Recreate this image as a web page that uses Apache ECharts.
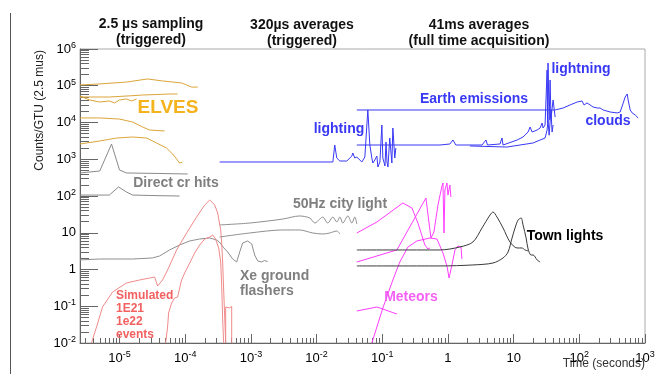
<!DOCTYPE html>
<html><head><meta charset="utf-8">
<script src="https://cdn.jsdelivr.net/npm/echarts@6/dist/echarts.min.js"></script>
<style>html,body{margin:0;padding:0;background:#fff}#c{width:662px;height:374px}</style>
</head><body><div id="c"></div>
<script>
// ---------- axes ----------
const xMin = 2.5e-6, xMax = 1e3, yMin = 1e-2, yMax = 1e6;
const xTickValues = [1e-5, 1e-4, 1e-3, 1e-2, 1e-1, 1, 10, 100, 1000];
const xTickLabels = ['{b|10}{s|-5}', '{b|10}{s|-4}', '{b|10}{s|-3}', '{b|10}{s|-2}', '{b|10}{s|-1}', '{b|1}', '{b|10}', '{b|10}{s|2}', '{b|10}{s|3}'];
const yTickValues = [1e-2, 1e-1, 1, 10, 100, 1e3, 1e4, 1e5, 1e6];
const yTickLabels = ['{b|10}{s|-2}', '{b|10}{s|-1}', '{b|1}', '{b|10}', '{b|10}{s|2}', '{b|10}{s|3}', '{b|10}{s|4}', '{b|10}{s|5}', '{b|10}{s|6}'];
const minorK = [2, 3, 4, 5, 6, 7, 8, 9];

// ---------- data: [time (s), counts/GTU] ----------
const elvesA = [[2.5e-6,1.05e5],[5e-6,1.12e5],[1.28e-5,1.26e5],[2.67e-5,1.53e5],[4.52e-5,1.35e5],[8.8e-5,1.19e5],[1.25e-4,9.2e4],[1.55e-4,9.2e4]];
const elvesB = [[2.5e-6,4.94e4],[7e-6,4.94e4],[1.4e-5,5.3e4],[2.24e-5,5.6e4],[4e-5,5.8e4],[5.78e-5,5.97e4],[7.66e-5,5.97e4]];
const elvesC = [[2.5e-6,5.26e4],[3.5e-6,4.1e4],[5e-6,3.61e4],[7e-6,3.85e4],[8.4e-6,3.4e4],[1e-5,4.1e4],[1.28e-5,4.36e4],[1.52e-5,3.85e4],[1.82e-5,4.36e4]];
const elvesD = [[2.5e-6,1.33e4],[5e-6,1.33e4],[1e-5,1.24e4],[1.58e-5,1.03e4],[2.24e-5,7.55e3],[2.87e-5,6.25e3],[4.85e-5,5.87e3]];
const elvesE = [[2.5e-6,2.6e3],[5e-6,3.14e3],[9e-6,3.78e3],[1.58e-5,4.03e3],[2.58e-5,3.78e3],[3.66e-5,2.77e3],[5.2e-5,2.02e3],[6.43e-5,1.39e3],[7.4e-5,1.02e3],[8.2e-5,790],[9.1e-5,842]];
const crHitsA = [[2.5e-6,423],[5e-6,479],[7.55e-6,2.6e3],[1e-5,510],[1.28e-5,423],[4e-5,410],[1.09e-4,397]];
const crHitsB = [[2.5e-6,106],[7e-6,106],[9.65e-6,176],[1.28e-5,128],[1.58e-5,106],[4e-5,102],[8.2e-5,100]];
const simHigh = [[3.74e-6,0.01],[4.46e-6,0.0272],[5.51e-6,0.0955],[7.82e-6,0.244],[1.28e-5,0.43],[2.02e-5,0.518],[2.87e-5,0.587],[3.42e-5,0.625],[3.8e-5,0.356],[4.52e-5,0.518],[5.39e-5,0.97],[7.4e-5,3.4],[1.05e-4,9.85],[1.49e-4,26.8],[1.98e-4,56.9],[2.36e-4,77.9],[2.81e-4,56.9],[3.12e-4,34.4],[3.47e-4,11.9],[3.59e-4,5.26],[3.72e-4,1.5],[3.85e-4,0.277],[3.99e-4,0.051],[4.13e-4,0.01]];
const simLow = [[5.03e-5,0.01],[5.39e-5,0.0272],[5.58e-5,0.0655],[6.2e-5,0.122],[6.9e-5,0.168],[7.66e-5,0.179],[8.8e-5,0.518],[9.8e-5,0.803],[1.17e-4,1.5],[1.39e-4,2.81],[1.66e-4,4.64],[1.98e-4,6.76],[2.36e-4,7.66],[2.62e-4,8.69],[2.9e-4,6.76],[3.23e-4,3.85],[3.47e-4,1.6],[3.59e-4,0.378],[3.72e-4,0.0423],[3.85e-4,0.01]];
const simTail = [[4.13e-4,0.01],[4.13e-4,0.095],[4.4e-4,0.1],[4.75e-4,0.09],[5.1e-4,0.1],[5.1e-4,0.01]];
const xeFlash = [[2.5e-6,1.82],[5e-6,1.93],[1.58e-5,1.93],[3.18e-5,2.06],[4.07e-5,2.33],[5.78e-5,3.4],[8.2e-5,4.64],[1.17e-4,5.97],[1.66e-4,6.76],[2.36e-4,7.2],[3.01e-4,6.35],[3.3e-4,5.6],[3.59e-4,4.64],[3.85e-4,3.9],[4.1e-4,4.2],[4.43e-4,2.99],[5.28e-4,1.93],[6.08e-4,1.6],[6.75e-4,2.99],[7.5e-4,5.26],[8.94e-4,5.97],[1.03e-3,4.94],[1.14e-3,2.48],[1.27e-3,1.7],[1.46e-3,1.6],[1.6e-3,1.75],[1.7e-3,1.55],[1.8e-3,1.65]];
const city50A = [[3.34e-4,16.3],[9.6e-4,18.4],[3.06e-3,23.6],[5.5e-3,28.6],[7.87e-3,25.2],[9.39e-3,18.4],[1.12e-2,23.6],[1.24e-2,26.8],[1.48e-2,18.4],[1.77e-2,26.8],[2.03e-2,19.6],[2.26e-2,26.8],[2.51e-2,18.4],[2.99e-2,28.6],[3.44e-2,18.4],[3.82e-2,26.8],[4.1e-2,17.3]];
const city50B = [[3.34e-4,7.66],[9.6e-4,9.85],[3.06e-3,11.9],[5.5e-3,11.9],[8.75e-3,9.85],[1.24e-2,9.25],[1.59e-2,9.85],[1.77e-2,10.5],[2.03e-2,11.2],[2.26e-2,9.25]];
const lightning320 = [[3.34e-4,842],[1.77e-2,842],[1.89e-2,2.44e3],[2.03e-2,1.08e3],[2.26e-2,896],[2.88e-2,896],[3.44e-2,1.22e3],[3.56e-2,1.48e3],[3.82e-2,1.08e3],[4.1e-2,1.15e3],[4.89e-2,842],[5.43e-2,1.15e3],[6.03e-2,2.19e4],[6.47e-2,2.44e3],[6.94e-2,1.08e3],[7.19e-2,790],[7.7e-2,955],[8.28e-2,1.22e3],[8.57e-2,615],[9.2e-2,842],[9.86e-2,8.55e3],[0.102,1.08e3],[0.11,655],[0.114,2.94e3],[0.118,842],[0.122,615],[0.13,3.78e3],[0.14,790],[0.145,7.08e3],[0.155,1.08e3],[0.161,2.02e3]];
const earthUpper = [[4.1e-2,2.19e4],[33,2.19e4],[42.8,2.19e4],[56.6,2.48e4],[72.4,3.0e4],[92.7,3.61e4],[110,3.85e4],[118,3.0e4],[131,3.4e4],[146,3.0e4],[162,2.64e4],[187,2.48e4],[207,2.48e4],[231,2.19e4],[295,1.93e4],[377,1.82e4],[419,1.93e4],[466,3.4e4],[499,4.94e4],[536,5.97e4],[554,4.1e4],[595,2.19e4],[638,1.82e4],[709,1.6e4],[787,1.33e4]];
const earthLower = [[4.1e-2,2.44e3],[0.755,2.44e3],[1.07,2.6e3],[1.19,3.34e3],[1.32,2.44e3],[3.3,2.44e3],[3.79,3.34e3],[4.0,2.44e3],[6.2,2.6e3],[6.65,3.78e3],[6.9,2.44e3],[11.3,3.34e3],[13.9,4.03e3],[16.6,5.5e3],[17.8,7.55e3],[19.1,5.5e3],[22.8,6.25e3],[25.3,7.08e3],[27.1,9.68e3],[28.1,7.08e3],[30.1,8.55e3],[32.3,2.68e5],[32.8,9.68e3],[33.4,4.16e5],[34.7,1.17e4],[35.9,1.43e5],[37,1.3e4],[39.9,4.1e4],[42.8,1.41e4]];
const earthLower2 = [[2.16,2.3e3],[7.93,2.15e3],[12.5,2.44e3],[19.8,2.77e3],[25.3,3.34e3],[30.1,3.78e3],[32.3,6.25e3],[33.4,1.17e4],[34.7,4.5e3],[37,2.19e4],[38.5,5.5e3],[39.9,8.55e3]];
const meteorA = [[4.1e-2,9.85],[8.28e-2,19.6],[0.206,64.6],[0.283,47.1],[0.349,18.4],[0.446,4.64],[0.496,3.61],[0.532,3.85]];
const meteorB = [[4.1e-2,1.6],[0.167,3.4],[0.462,88.3],[0.513,19.6],[0.551,7.2],[0.612,10.5],[0.705,56.9],[0.811,187],[0.84,226],[0.87,9.85],[0.9,146],[0.966,226],[1.0,106],[1.07,199],[1.11,94]];
const meteorC = [[6.94e-2,0.01],[0.102,0.0895],[0.145,0.518],[0.185,1.6],[0.246,4.1],[0.337,5.97],[0.532,7.2],[0.68,6.76],[0.84,2.81],[0.966,1.24],[1.04,0.587],[1.15,1.33],[1.28,3.4],[1.42,4.36],[1.58,4.1],[1.63,1.93]];
const meteorD = [[4.1e-2,0.0743],[8.28e-2,0.0955],[0.102,0.0841],[0.167,0.0615]];
const townA = [[4.1e-2,3.4],[0.755,3.4],[1.52,4.1],[2.4,5.6],[3.3,13.5],[4.37,30.4],[4.85,36.7],[5.58,26.8],[6.9,13.5],[8.8,5.6],[11.3,3.85],[13.4,3.85],[14.9,3.4],[16.6,3.2]];
const townB = [[4.1e-2,1.25],[0.755,1.25],[2.4,1.33],[4.85,1.5],[6.9,2.06],[8.22,2.99],[9.46,7.2],[10.5,13.5],[11.7,22.2],[13.0,25.2],[13.9,16.3],[15.5,7.2],[16.6,3.61],[18.4,2.48],[19.8,2.48],[22.8,1.82],[25.3,1.6]];

// ---------- styling ----------
const FONT = '"Liberation Sans", Arial, Helvetica, sans-serif';
const C_ELVES = '#DCA53A', C_GRAY = '#8a8a8a', C_RED = '#F08A8A', C_BLUE = '#3838F5', C_MAG = '#FF3CFF', C_TOWN = '#3a3a3a';

const rich = {
  b: {fontSize: 13, lineHeight: 16, fontFamily: FONT, color: '#000'},
  s: {fontSize: 9, lineHeight: 10, verticalAlign: 'top', fontFamily: FONT, color: '#000'}
};
function fmt(values, labels) {
  return function (v) {
    const l = Math.log10(v);
    for (let i = 0; i < values.length; i++) {
      if (Math.abs(l - Math.log10(values[i])) < 1e-6) return labels[i];
    }
    return '';
  };
}
const gridRect = {left: 80, top: 49, right: 17, bottom: 31};
const grids = [Object.assign({show: true, borderColor: '#aaa', borderWidth: 1, backgroundColor: 'transparent'}, gridRect)];
const xAxes = [{
  type: 'log', logBase: 10, gridIndex: 0, min: xMin, max: xMax, splitNumber: 8,
  axisLine: {show: true, lineStyle: {color: '#666', width: 1}},
  axisTick: {show: true, inside: true, length: 9, lineStyle: {color: '#666'}},
  axisLabel: {show: true, margin: 7, formatter: fmt(xTickValues, xTickLabels), rich: rich, showMinLabel: true, showMaxLabel: true, hideOverlap: false},
  splitLine: {show: false}, minorTick: {show: false}
}];
const yAxes = [{
  type: 'log', logBase: 10, gridIndex: 0, min: yMin, max: yMax, splitNumber: 8,
  axisLine: {show: true, lineStyle: {color: '#666', width: 1}},
  axisTick: {show: true, inside: true, length: 18, lineStyle: {color: '#666'}},
  axisLabel: {show: true, margin: 4, formatter: fmt(yTickValues, yTickLabels), rich: rich, showMinLabel: true, showMaxLabel: true, hideOverlap: false},
  splitLine: {show: false}, minorTick: {show: false}
}];
// Minor ticks at 2..9 x 10^n: extra shifted log axes sharing the plot rectangle
minorK.forEach(function (k, i) {
  grids.push(Object.assign({show: false}, gridRect));
  xAxes.push({type: 'log', logBase: 10, gridIndex: i + 1, min: xMin / k, max: xMax / k, splitNumber: 8,
    axisLine: {show: false}, axisTick: {show: true, inside: true, length: 5, lineStyle: {color: '#666'}},
    axisLabel: {show: false}, splitLine: {show: false}});
  yAxes.push({type: 'log', logBase: 10, gridIndex: i + 1, min: yMin / k, max: yMax / k, splitNumber: 8,
    axisLine: {show: false}, axisTick: {show: true, inside: true, length: 9, lineStyle: {color: '#666'}},
    axisLabel: {show: false}, splitLine: {show: false}});
});

function line(name, data, color, extra) {
  return Object.assign({
    name: name, type: 'line', data: data, xAxisIndex: 0, yAxisIndex: 0,
    showSymbol: false, symbol: 'none', silent: true,
    lineStyle: {color: color, width: 1}
  }, extra || {});
}
const series = [
  line('elvesA', elvesA, C_ELVES), line('elvesB', elvesB, C_ELVES), line('elvesC', elvesC, C_ELVES),
  line('elvesD', elvesD, C_ELVES), line('elvesE', elvesE, C_ELVES),
  line('crHitsA', crHitsA, C_GRAY), line('crHitsB', crHitsB, C_GRAY),
  line('xeFlash', xeFlash, '#8f8f8f'),
  line('simHigh', simHigh, C_RED), line('simLow', simLow, C_RED), line('simTail', simTail, C_RED),
  line('city50A', city50A, '#8f8f8f', {smooth: 0.3}), line('city50B', city50B, '#8f8f8f', {smooth: 0.3}),
  line('lightning320', lightning320, C_BLUE),
  line('earthUpper', earthUpper, C_BLUE), line('earthLower', earthLower, C_BLUE), line('earthLower2', earthLower2, C_BLUE),
  line('meteorA', meteorA, C_MAG), line('meteorB', meteorB, C_MAG), line('meteorC', meteorC, C_MAG), line('meteorD', meteorD, C_MAG),
  line('townA', townA, C_TOWN, {smooth: 0.3}), line('townB', townB, C_TOWN, {smooth: 0.3})
];

function txt(x, y, text, color, size, opts) {
  return {type: 'text', x: x, y: y, silent: true, z: 100,
    style: Object.assign({text: text, fill: color, font: 'bold ' + size + 'px ' + FONT, align: 'center', verticalAlign: 'middle', lineHeight: size + 2}, opts || {})};
}
const graphic = [
  {type: 'line', silent: true, shape: {x1: 10.5, y1: 13, x2: 10.5, y2: 374}, style: {stroke: '#555', lineWidth: 1}},
  txt(151, 24, '2.5 µs sampling', '#111', 14), txt(151, 40, '(triggered)', '#111', 14),
  txt(302, 25, '320µs averages', '#111', 14), txt(302, 41, '(triggered)', '#111', 14),
  txt(479, 25, '41ms averages', '#111', 14), txt(479, 41, '(full time acquisition)', '#111', 14),
  {type: 'text', x: 40, y: 50, rotation: Math.PI / 2, silent: true,
    style: {text: 'Counts/GTU (2.5 mus)', fill: '#222', font: '12px ' + FONT, align: 'right', verticalAlign: 'middle'}},
  {type: 'text', x: 645, y: 364, silent: true,
    style: {text: 'Time (seconds)', fill: '#333', font: '12px ' + FONT, align: 'right', verticalAlign: 'middle'}},
  txt(168, 108, 'ELVES', '#F4B21C', 19),
  txt(176, 183, 'Direct cr hits', '#7f7f7f', 14),
  txt(340, 204, '50Hz city light', '#7f7f7f', 14),
  txt(240, 284, 'Xe ground\nflashers', '#7f7f7f', 14, {align: 'left', lineHeight: 15}),
  txt(116, 315, 'Simulated\n1E21\n1e22\nevents', '#F26060', 12, {align: 'left', lineHeight: 13}),
  txt(339, 129, 'lighting', C_BLUE, 14),
  txt(474, 99, 'Earth emissions', C_BLUE, 14),
  txt(581, 69, 'lightning', C_BLUE, 14),
  txt(608, 121, 'clouds', C_BLUE, 14),
  txt(411, 297, 'Meteors', '#F560F5', 14),
  txt(565, 236, 'Town lights', '#000', 14)
];

const chart = echarts.init(document.getElementById('c'), null, {renderer: 'canvas'});
chart.setOption({
  animation: false,
  backgroundColor: '#fff',
  textStyle: {fontFamily: FONT},
  grid: grids, xAxis: xAxes, yAxis: yAxes,
  series: series, graphic: graphic
});
</script></body></html>
